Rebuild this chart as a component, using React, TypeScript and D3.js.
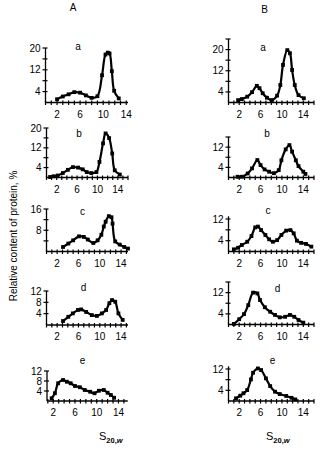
import React from "react";
import * as d3 from "d3";

// ---------- data ----------
const columnTitles = ["A", "B"];
const panelLetters = ["a", "b", "c", "d", "e"];
const xTickLabels = [2, 6, 10, 14];
const yAxisTitle = "Relative content of protein, %";

// Column A
const Aa_x = [2, 3, 4, 5, 6, 7, 8, 9, 9.8, 10.4, 10.8, 11.1, 11.5, 11.9, 12.7];
const Aa_y = [1.2, 2.2, 3.0, 3.8, 3.6, 2.6, 1.7, 2.3, 10, 17.6, 18.3, 18.0, 11.5, 4.3, 1.5];
const Ab_x = [0.7, 1.4, 2.2, 3.2, 4.2, 5.2, 6.2, 7.1, 7.9, 8.8, 9.8, 10.4, 11.1, 11.6, 12.3, 12.9, 13.4, 14.4];
const Ab_y = [0.2, 0.5, 0.8, 1.8, 3.1, 4.2, 4.0, 3.3, 2.2, 1.8, 2.2, 6.3, 13.8, 17.8, 15.9, 9.7, 2.9, 1.2];
const Ac_x = [3.1, 4.1, 5.0, 6.1, 7.0, 7.75, 8.8, 9.6, 10.3, 10.75, 11.1, 11.7, 12.2, 12.4, 12.9, 13.75, 14.6, 15.3];
const Ac_y = [1.7, 3.0, 4.2, 5.7, 5.5, 4.5, 3.2, 4.2, 6.3, 9.4, 11.2, 13.3, 12.9, 10.5, 3.8, 2.6, 1.7, 1.1];
const Ad_x = [3.1, 4.1, 4.95, 5.9, 6.5, 7.45, 8.5, 9.45, 10.4, 11.2, 11.8, 12.3, 12.9, 13.5, 14.3];
const Ad_y = [1.4, 2.9, 4.1, 5.3, 5.5, 4.6, 3.5, 3.2, 4.1, 5.3, 7.7, 8.8, 8.2, 4.1, 1.8];
const Ae_x = [1.7, 2.3, 2.9, 3.8, 4.5, 5.2, 6.0, 6.9, 7.8, 8.8, 9.6, 10.4, 11.3, 12.0, 12.6, 13.2];
const Ae_y = [1.1, 3.1, 7.1, 8.4, 7.7, 7.1, 6.0, 5.5, 4.4, 3.7, 3.1, 4.1, 4.4, 3.3, 2.4, 1.3];

// Column B
const Ba_x = [1.8, 2.5, 3.5, 4.4, 5.3, 5.8, 6.4, 7.2, 8.1, 9.1, 9.7, 10.2, 11.0, 11.5, 11.9, 12.4, 13.1, 14.1];
const Ba_y = [0.9, 1.3, 2.2, 3.9, 6.3, 5.4, 3.5, 1.8, 0.9, 2.6, 6.6, 14.2, 19.8, 18.6, 12.3, 6.6, 2.8, 1.6];
const Bb_x = [1.7, 2.5, 3.6, 4.4, 5.4, 6.0, 6.75, 7.6, 8.5, 9.4, 9.9, 10.7, 11.4, 11.9, 12.6, 13.1, 14.0, 14.4];
const Bb_y = [0.3, 0.3, 1.6, 3.6, 6.9, 4.9, 3.2, 2.3, 1.7, 2.9, 6.8, 11.1, 12.8, 10.2, 6.8, 4.5, 2.3, 1.4];
const Bc_x = [1.0, 1.8, 2.5, 3.5, 4.3, 5.0, 5.5, 6.1, 6.9, 7.6, 8.3, 9.1, 9.9, 10.8, 11.6, 12.2, 12.8, 13.6, 14.5, 15.5];
const Bc_y = [0.8, 1.4, 2.4, 3.6, 5.7, 8.9, 9.2, 7.9, 6.1, 4.5, 3.6, 4.2, 6.1, 7.7, 7.9, 6.7, 4.0, 3.2, 2.8, 1.8];
const Bd_x = [1.0, 2.0, 2.9, 3.7, 4.6, 5.4, 5.9, 6.8, 7.8, 8.7, 9.6, 10.6, 11.5, 12.3, 13.1, 14.0];
const Bd_y = [0.2, 2.0, 3.9, 7.3, 12.0, 11.7, 9.2, 6.5, 4.8, 3.6, 2.7, 2.9, 3.6, 2.9, 1.7, 0.7];
const Be_x = [1.4, 2.2, 2.8, 3.5, 4.2, 4.6, 5.5, 6.1, 7.0, 7.8, 8.7, 9.6, 10.8, 11.8, 12.5];
const Be_y = [1.0, 2.0, 2.9, 4.1, 8.1, 10.6, 12.2, 11.6, 8.5, 5.6, 3.5, 2.6, 1.9, 1.2, 0.6];

const yTicks20 = [4, 8, 12, 16, 20];
const yTicks24 = [4, 8, 12, 16, 20, 24];
const yTicks16 = [4, 8, 12, 16];
const yTicks12 = [4, 8, 12];
const yLabels4_12_20 = [4, 12, 20];
const yLabels8_16 = [8, 16];
const yLabels4_8_12 = [4, 8, 12];
const yLabels4_12 = [4, 12];

// ---------- layout ----------
type Layout = {
  x0: number; x1: number; xMin: number; xMax: number;
  base: number; refVal: number; refPx: number; axisTop: number;
  lx: number; ly: number;
};

const panels = [
  { col: 0, xs: Aa_x, ys: Aa_y, ticks: yTicks20, labels: yLabels4_12_20,
    L: { x0: 45.5, x1: 128, xMin: 0, xMax: 14.3, base: 102.5, refVal: 20, refPx: 48, axisTop: 20, lx: 78, ly: 50 } },
  { col: 0, xs: Ab_x, ys: Ab_y, ticks: yTicks20, labels: yLabels4_12_20,
    L: { x0: 46.5, x1: 128, xMin: 0, xMax: 16, base: 177.5, refVal: 20, refPx: 128, axisTop: 20, lx: 79, ly: 137 } },
  { col: 0, xs: Ac_x, ys: Ac_y, ticks: yTicks16, labels: yLabels8_16,
    L: { x0: 46.5, x1: 128, xMin: 0, xMax: 15.3, base: 251.5, refVal: 16, refPx: 209, axisTop: 16, lx: 82.5, ly: 215 } },
  { col: 0, xs: Ad_x, ys: Ad_y, ticks: yTicks12, labels: yLabels4_8_12,
    L: { x0: 46.5, x1: 128, xMin: 0, xMax: 15.3, base: 325, refVal: 12, refPx: 291, axisTop: 12, lx: 83.5, ly: 291 } },
  { col: 0, xs: Ae_x, ys: Ae_y, ticks: yTicks12, labels: yLabels4_8_12,
    L: { x0: 47, x1: 127.7, xMin: 0.85, xMax: 15.7, base: 401, refVal: 12, refPx: 371, axisTop: 12, lx: 82.5, ly: 364 } },
  { col: 1, xs: Ba_x, ys: Ba_y, ticks: yTicks24, labels: yLabels4_12_20,
    L: { x0: 228.5, x1: 314, xMin: 0, xMax: 16, base: 102.5, refVal: 24, refPx: 39, axisTop: 24, lx: 263, ly: 51 } },
  { col: 1, xs: Bb_x, ys: Bb_y, ticks: yTicks16, labels: yLabels4_12,
    L: { x0: 228.5, x1: 314, xMin: 0, xMax: 16, base: 177.5, refVal: 16, refPx: 137, axisTop: 16, lx: 267, ly: 137 } },
  { col: 1, xs: Bc_x, ys: Bc_y, ticks: yTicks12, labels: yLabels4_12,
    L: { x0: 228.5, x1: 314, xMin: 0, xMax: 16, base: 251.5, refVal: 12, refPx: 219, axisTop: 13, lx: 268, ly: 214 } },
  { col: 1, xs: Bd_x, ys: Bd_y, ticks: yTicks16, labels: yLabels4_12,
    L: { x0: 228.5, x1: 314, xMin: 0, xMax: 16, base: 324.5, refVal: 16, refPx: 282, axisTop: 16, lx: 277.5, ly: 291.5 } },
  { col: 1, xs: Be_x, ys: Be_y, ticks: yTicks12, labels: yLabels4_12,
    L: { x0: 228.5, x1: 314, xMin: 0, xMax: 16, base: 401, refVal: 12, refPx: 369, axisTop: 13, lx: 272.5, ly: 364 } },
];

const FONT = "'Liberation Sans', Arial, Helvetica, sans-serif";

function Panel({ xs, ys, ticks, labels, letter, L }: { xs: number[]; ys: number[]; ticks: number[]; labels: number[]; letter: string; L: Layout }) {
  const x = d3.scaleLinear().domain([L.xMin, L.xMax]).range([L.x0, L.x1]);
  const y = d3.scaleLinear().domain([0, L.refVal]).range([L.base, L.refPx]);
  const pts: [number, number][] = xs.map((v, i) => [v, ys[i]]);
  const line = d3
    .line<[number, number]>()
    .x((d) => x(d[0]))
    .y((d) => y(d[1]))
    .curve(d3.curveCatmullRom.alpha(0.5));
  const xt = d3.range(Math.ceil(L.xMin), Math.floor(L.xMax) + 1);
  const x0 = x(L.xMin);
  const y0 = y(0);
  const ms = 3.8;
  return (
    <g>
      <line x1={x0} x2={x(L.xMax)} y1={y0} y2={y0} stroke="#000" strokeWidth={1.3} />
      <line x1={x0} x2={x0} y1={y0} y2={y(L.axisTop)} stroke="#000" strokeWidth={1.3} />
      {xt.map((t) => (
        <line key={"xt" + t} x1={x(t)} x2={x(t)} y1={y0 - 2} y2={y0 + 2.5} stroke="#000" strokeWidth={1.2} />
      ))}
      {ticks.map((t) => (
        <line key={"yt" + t} x1={x0 - 3} x2={x0 + 2} y1={y(t)} y2={y(t)} stroke="#000" strokeWidth={1.2} />
      ))}
      {xTickLabels.map((t) => (
        <text key={"xl" + t} x={x(t)} y={y0 + 15} textAnchor="middle" fontSize={10} fontFamily={FONT}>
          {t}
        </text>
      ))}
      {labels.map((t) => (
        <text key={"yl" + t} x={x0 - 5} y={y(t) + 3.5} textAnchor="end" fontSize={10} fontFamily={FONT}>
          {t}
        </text>
      ))}
      <text x={L.lx} y={L.ly} textAnchor="middle" fontSize={10} fontFamily={FONT}>
        {letter}
      </text>
      <path d={line(pts) || ""} fill="none" stroke="#000" strokeWidth={2.2} strokeLinejoin="round" />
      {pts.map((d, i) => (
        <rect key={"m" + i} x={x(d[0]) - ms / 2} y={y(d[1]) - ms / 2} width={ms} height={ms} fill="#000" />
      ))}
    </g>
  );
}

export default function App() {
  return (
    <svg width={325} height={451} style={{ position: "absolute", left: 0, top: 0, background: "#fff" }}>
      <rect width={325} height={451} fill="#fff" />
      <text x={73} y={11} textAnchor="middle" fontSize={10} fontFamily={FONT}>{columnTitles[0]}</text>
      <text x={264.5} y={13} textAnchor="middle" fontSize={10} fontFamily={FONT}>{columnTitles[1]}</text>
      <text
        transform="translate(17,236) rotate(-90)"
        textAnchor="middle"
        fontSize={10}
        fontFamily={FONT}
      >
        {yAxisTitle}
      </text>
      {panels.map((p, i) => (
        <Panel key={i} xs={p.xs} ys={p.ys} ticks={p.ticks} labels={p.labels} letter={panelLetters[i % 5]} L={p.L} />
      ))}
      {[99, 266].map((sx, i) => (
        <text key={"s" + i} x={sx} y={440} fontSize={11} fontFamily={FONT}>
          S
          <tspan fontSize={7.5} dy={2.5} fontWeight="bold">20,</tspan>
          <tspan fontSize={7.5} fontWeight="bold" fontStyle="italic">w</tspan>
        </text>
      ))}
    </svg>
  );
}
